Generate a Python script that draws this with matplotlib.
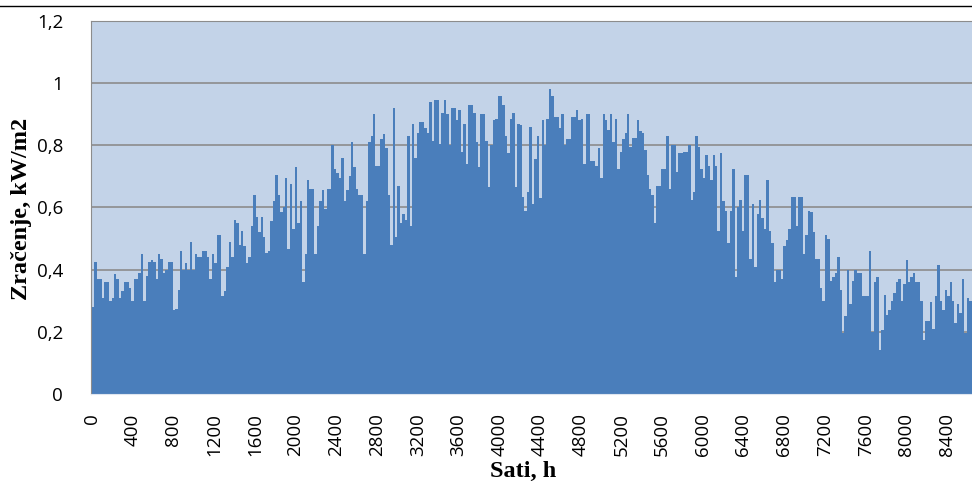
import numpy as np
import matplotlib.pyplot as plt

plt.rcParams['font.family'] = ['Open Sans', 'DejaVu Sans']

# dnevni vrh zracenja (kW/m2), ocitano s grafa, po blokovima od 45 dana
blok_1 = [0.28, 0.425, 0.37, 0.37, 0.31, 0.36, 0.36, 0.30, 0.31, 0.385,
          0.37, 0.31, 0.33, 0.36, 0.36, 0.34, 0.30, 0.37, 0.37, 0.39,
          0.45, 0.30, 0.38, 0.425, 0.43, 0.425, 0.37, 0.45, 0.435, 0.39,
          0.40, 0.425, 0.425, 0.27, 0.275, 0.335, 0.46, 0.40, 0.42, 0.40,
          0.49, 0.40, 0.45, 0.44, 0.44]
blok_2 = [0.46, 0.46, 0.44, 0.37, 0.45, 0.42, 0.51, 0.51, 0.315, 0.33,
          0.41, 0.49, 0.44, 0.56, 0.55, 0.48, 0.525, 0.475, 0.42, 0.44,
          0.54, 0.64, 0.57, 0.52, 0.57, 0.505, 0.455, 0.46, 0.555, 0.62,
          0.705, 0.64, 0.585, 0.60, 0.695, 0.465, 0.675, 0.53, 0.73, 0.55,
          0.62, 0.36, 0.45, 0.69, 0.66]
blok_3 = [0.66, 0.45, 0.54, 0.62, 0.655, 0.595, 0.66, 0.66, 0.80, 0.725,
          0.71, 0.695, 0.76, 0.62, 0.655, 0.70, 0.81, 0.73, 0.66, 0.64,
          0.64, 0.45, 0.62, 0.81, 0.83, 0.90, 0.735, 0.735, 0.82, 0.835,
          0.79, 0.64, 0.48, 0.92, 0.505, 0.67, 0.55, 0.58, 0.56, 0.83,
          0.54, 0.87, 0.76, 0.84, 0.875]
blok_4 = [0.875, 0.855, 0.84, 0.94, 0.815, 0.945, 0.945, 0.805, 0.905, 0.945,
          0.90, 0.80, 0.92, 0.92, 0.88, 0.915, 0.78, 0.87, 0.74, 0.93,
          0.93, 0.905, 0.81, 0.73, 0.90, 0.90, 0.815, 0.665, 0.80, 0.88,
          0.885, 0.96, 0.96, 0.93, 0.83, 0.775, 0.885, 0.905, 0.665, 0.87,
          0.865, 0.635, 0.59, 0.65, 0.86]
blok_5 = [0.61, 0.755, 0.83, 0.63, 0.88, 0.80, 0.885, 0.98, 0.96, 0.89,
          0.89, 0.855, 0.90, 0.80, 0.82, 0.82, 0.89, 0.89, 0.915, 0.88,
          0.885, 0.74, 0.90, 0.90, 0.75, 0.75, 0.735, 0.79, 0.695, 0.90,
          0.88, 0.85, 0.90, 0.81, 0.885, 0.725, 0.78, 0.82, 0.84, 0.90,
          0.795, 0.825, 0.825, 0.88, 0.845]
blok_6 = [0.84, 0.785, 0.705, 0.66, 0.64, 0.55, 0.67, 0.67, 0.725, 0.725,
          0.83, 0.66, 0.80, 0.80, 0.715, 0.775, 0.775, 0.78, 0.78, 0.80,
          0.625, 0.65, 0.83, 0.795, 0.725, 0.695, 0.77, 0.735, 0.69, 0.77,
          0.735, 0.525, 0.775, 0.62, 0.59, 0.485, 0.59, 0.725, 0.375, 0.60,
          0.625, 0.525, 0.705, 0.705, 0.435]
blok_7 = [0.61, 0.41, 0.58, 0.625, 0.565, 0.53, 0.69, 0.525, 0.485, 0.36,
          0.40, 0.40, 0.37, 0.475, 0.495, 0.53, 0.635, 0.635, 0.54, 0.635,
          0.635, 0.45, 0.51, 0.59, 0.585, 0.52, 0.435, 0.435, 0.34, 0.30,
          0.51, 0.50, 0.365, 0.375, 0.39, 0.44, 0.335, 0.195, 0.25, 0.40,
          0.29, 0.365, 0.40, 0.39, 0.39]
blok_8 = [0.315, 0.315, 0.315, 0.46, 0.20, 0.36, 0.375, 0.14, 0.205, 0.32,
          0.255, 0.27, 0.30, 0.325, 0.36, 0.37, 0.30, 0.355, 0.43, 0.36,
          0.375, 0.39, 0.36, 0.36, 0.30, 0.175, 0.235, 0.235, 0.295, 0.21,
          0.315, 0.415, 0.30, 0.27, 0.335, 0.315, 0.36, 0.30, 0.227, 0.29,
          0.26, 0.37, 0.195, 0.31, 0.30, 0.30]

zracenje = blok_1 + blok_2 + blok_3 + blok_4 + blok_5 + blok_6 + blok_7 + blok_8

sati_ticks = list(range(0, 8401, 400))
y_ticks = [0, 0.2, 0.4, 0.6, 0.8, 1.0, 1.2]
y_labels = ['0', '0,2', '0,4', '0,6', '0,8', '1', '1,2']

fig = plt.figure(figsize=(9.72, 4.84), dpi=100)
ax = fig.add_axes([91 / 972, 90 / 484, 881 / 972, 373 / 484])
ax.set_facecolor('#c3d3e8')

# svaki dan traje 24 sata
rubovi = np.arange(len(zracenje) + 1) * 24
ax.stairs(zracenje, rubovi, fill=True, color='#4a7ebb', zorder=2)

ax.set_xlim(-10, 8645)
ax.set_ylim(0, 1.2)
ax.set_yticks(y_ticks, y_labels)
ax.set_xticks(sati_ticks, [str(s) for s in sati_ticks], rotation=90)
ax.grid(axis='y', color='#8c8c8c', lw=1.2, zorder=1)
ax.set_axisbelow(True)
ax.tick_params(length=0, labelsize=13.5)
ax.tick_params(axis='y', pad=20)
ax.tick_params(axis='x', pad=14)

for s in ['right']:
    ax.spines[s].set_visible(False)
ax.spines['left'].set_color('#8c8c8c')
ax.spines['top'].set_color('#8c8c8c')
ax.spines['bottom'].set_color('#dfe6f0')

ax.set_ylabel('Zračenje, kW/m2', family='Liberation Serif', weight='bold', size=17.5)
ax.yaxis.set_label_coords(32 / 972, 0.568, transform=fig.transFigure)
ax.set_xlabel('Sati, h', family='Liberation Serif', weight='bold', size=17.5)
ax.xaxis.set_label_coords(523 / 972, 23 / 484, transform=fig.transFigure)

# crna linija na vrhu
fig.add_artist(plt.Line2D([0, 1], [1 - 5.5 / 484] * 2, color='black', lw=1,
                          transform=fig.transFigure))

fig.savefig('out.png', dpi=100)
